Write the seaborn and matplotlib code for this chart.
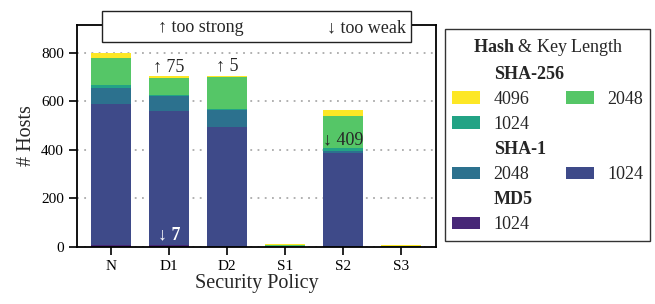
import numpy as np
import pandas as pd
import matplotlib
matplotlib.use("Agg")
import matplotlib.pyplot as plt
from matplotlib.patches import Patch, Rectangle
import seaborn as sns

# ---------------- data ----------------
policies = ["N", "D1", "D2", "S1", "S2", "S3"]
md5_1024 = [7, 7, 0, 0, 0, 0]
sha1_1024 = [583, 553, 494, 0, 388, 0]
sha1_2048 = [64, 63, 71, 0, 8, 0]
sha256_1024 = [13, 4, 4, 1, 13, 1]
sha256_2048 = [112, 69, 130, 5, 132, 3]
sha256_4096 = [21, 6, 5, 5, 24, 2]

# annotations
annot_policy = ["D1", "D2", "S2", "D1"]
annot_text = ["\u2191 75", "\u2191 5", "\u2193 409", "\u2193 7"]

layer_names = ["MD5 1024", "SHA-1 1024", "SHA-1 2048",
               "SHA-256 1024", "SHA-256 2048", "SHA-256 4096"]
layer_values = [md5_1024, sha1_1024, sha1_2048, sha256_1024, sha256_2048, sha256_4096]
layer_colors = ["#472777", "#3e4a89", "#2c718e", "#22a385", "#55c667", "#fde725"]

# ---------------- style ----------------
sns.set_style("ticks")
plt.rcParams["font.family"] = ["Liberation Serif", "DejaVu Serif"]
plt.rcParams["mathtext.fontset"] = "custom"
plt.rcParams["mathtext.rm"] = "Liberation Serif"
plt.rcParams["mathtext.bf"] = "Liberation Serif:bold"

fig = plt.figure(figsize=(6.55, 3.04), dpi=100)
ax = fig.add_axes([77.3 / 655, 1 - 246.7 / 304, (436 - 77.3) / 655, (246.7 - 25.3) / 304])

df = pd.DataFrame({"policy": policies})
cum = np.zeros(len(policies))
cums = []
for vals in layer_values:
    cum = cum + np.array(vals, dtype=float)
    cums.append(cum.copy())
for i in range(len(layer_values) - 1, -1, -1):
    df["cum"] = cums[i]
    sns.barplot(data=df, x="policy", y="cum", order=policies, color=layer_colors[i],
                saturation=1, width=0.7, errorbar=None, linewidth=0, ax=ax)

ax.set_xlim(-0.58, 5.6)
ax.set_ylim(0, 913)
ax.set_yticks([0, 200, 400, 600, 800])
ax.yaxis.grid(True, linestyle=(0, (1, 3)), color="#aaaaaa", linewidth=1.3)
ax.set_axisbelow(True)
for s in ax.spines.values():
    s.set_visible(True)
    s.set_linewidth(1.3)
    s.set_color("black")
ax.tick_params(direction="out", length=6, width=1.2, labelsize=11, colors="black")
ax.set_xlabel("Security Policy", fontsize=14.5, labelpad=1)
ax.set_ylabel("# Hosts", fontsize=14.5, labelpad=4)

totals = cums[-1]
pos = {p: i for i, p in enumerate(policies)}
for p, t in zip(annot_policy[:2], annot_text[:2]):
    i = pos[p]
    ax.text(i, totals[i] + 6, t, ha="center", va="bottom", fontsize=13)
i = pos["S2"]
ax.text(i, cums[3][i] - 2, annot_text[2], ha="center", va="bottom", fontsize=13)
i = pos["D1"]
ax.text(i, 12, annot_text[3], ha="center", va="bottom", fontsize=13,
        color="white", fontweight="bold")

# top legend box
rect = Rectangle((0.0697, 0.923), 0.930 - 0.0697, 1.063 - 0.923, transform=ax.transAxes,
                 facecolor="white", edgecolor="#222222", linewidth=1.0, clip_on=False, zorder=10)
ax.add_patch(rect)
ax.text(0.225, 0.99, "\u2191 too strong", transform=ax.transAxes, ha="left", va="center",
        fontsize=13, zorder=11)
ax.text(0.915, 0.99, "\u2193 too weak", transform=ax.transAxes, ha="right", va="center",
        fontsize=13, zorder=11)

# right legend
inv = Patch(facecolor="none", edgecolor="none")
def P(c):
    return Patch(facecolor=c, edgecolor="none")
col1_h = [inv, P(layer_colors[5]), P(layer_colors[3]), inv, P(layer_colors[2]), inv, P(layer_colors[0])]
col1_l = ["SHA-256", "4096", "1024", "SHA-1", "2048", "MD5", "1024"]
col2_h = [inv, P(layer_colors[4]), inv, inv, P(layer_colors[1]), inv, inv]
col2_l = ["", "2048", "", "", "1024", "", ""]
leg = fig.legend(col1_h + col2_h, col1_l + col2_l, ncol=2, loc="upper left",
                 bbox_to_anchor=(445 / 655, 1 - 29.3 / 304), borderaxespad=0,
                 title=r"$\mathbf{Hash}$ & Key Length", fontsize=13, title_fontsize=13,
                 handlelength=1.55, handleheight=0.67, handletextpad=0.75,
                 columnspacing=0.1, labelspacing=0.45, borderpad=0.4,
                 frameon=True, fancybox=False, framealpha=1, edgecolor="#333333")
leg.get_frame().set_linewidth(1.0)
for t in leg.get_texts():
    if t.get_text() in ("SHA-256", "SHA-1", "MD5"):
        t.set_fontweight("bold")

fig.savefig("out.png", dpi=100)
